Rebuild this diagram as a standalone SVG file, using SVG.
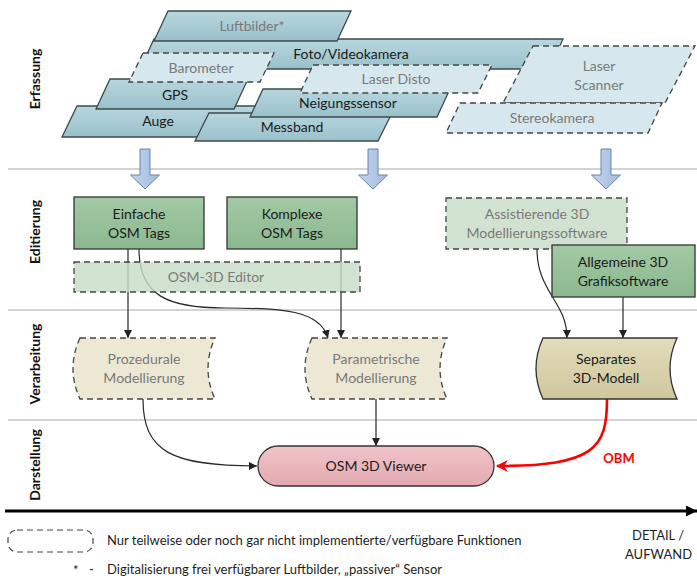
<svg xmlns="http://www.w3.org/2000/svg" width="697" height="578" viewBox="0 0 697 578">
<defs>
  <linearGradient id="gBlue" x1="0" y1="0" x2="0" y2="1"><stop offset="0" stop-color="#b8d6de"/><stop offset="1" stop-color="#99c1cb"/></linearGradient>
  <linearGradient id="gGreen" x1="0" y1="0" x2="0" y2="1"><stop offset="0" stop-color="#a3c9a5"/><stop offset="1" stop-color="#8bb88e"/></linearGradient>
  <linearGradient id="gTan" x1="0" y1="0" x2="0" y2="1"><stop offset="0" stop-color="#e2dcbb"/><stop offset="1" stop-color="#d0c79c"/></linearGradient>
  <linearGradient id="gPink" x1="0" y1="0" x2="0" y2="1"><stop offset="0" stop-color="#f0c4c9"/><stop offset="1" stop-color="#e3a9b0"/></linearGradient>
  <linearGradient id="gArrow" x1="0" y1="0" x2="1" y2="0"><stop offset="0" stop-color="#c3d5ee"/><stop offset="1" stop-color="#a2bbe0"/></linearGradient>
  <marker id="ah" viewBox="0 0 10 10" refX="10" refY="5" markerWidth="8" markerHeight="8" markerUnits="userSpaceOnUse" orient="auto"><path d="M0,0 L10,5 L0,10 Z" fill="#222"/></marker>
  <marker id="ahRed" viewBox="0 0 10 10" refX="9" refY="5" markerWidth="12" markerHeight="12" markerUnits="userSpaceOnUse" orient="auto"><path d="M0,0 L10,5 L0,10 L3,5 Z" fill="#ff0000"/></marker>
  <marker id="axisHead" viewBox="0 0 10 10" refX="10" refY="5" markerWidth="11" markerHeight="11" markerUnits="userSpaceOnUse" orient="auto"><path d="M0,0 L10,5 L0,10 Z" fill="#000"/></marker>
</defs>
<style>
  text { font-family: Lato, "Liberation Sans", sans-serif; }
  .t { font-size: 14px; fill: #1a1a1a; text-anchor: middle; }
  .tg { font-size: 14px; fill: #7a7a7a; text-anchor: middle; }
  .lane { font-size: 14px; font-weight: bold; fill: #111; text-anchor: middle; }
  .pb { fill: url(#gBlue); stroke: #3c4a4e; stroke-width: 1.3; }
  .pd { fill: #d6e8ed; stroke: #444; stroke-width: 1.3; stroke-dasharray: 6 4; }
  .gb { fill: url(#gGreen); stroke: #333; stroke-width: 1.3; }
  .gd { fill: #c8dcc7; fill-opacity: 0.82; stroke: #444; stroke-width: 1.3; stroke-dasharray: 6 4; }
  .td { fill: #ece8d4; stroke: #444; stroke-width: 1.3; stroke-dasharray: 6 4; }
  .ts { fill: url(#gTan); stroke: #333; stroke-width: 1.3; }
  .sep { stroke: #c4c4c4; stroke-width: 1.5; }
  .bar { fill: url(#gArrow); stroke: #6a84a6; stroke-width: 1; }
  .con { fill: none; stroke: #2a2a2a; stroke-width: 1.2; marker-end: url(#ah); }
  .leg { font-size: 13px; fill: #1e1e1e; }
</style>
<rect width="697" height="578" fill="#ffffff"/>

<!-- lane separators -->
<g id="lanes">
  <line class="sep" x1="8" y1="169" x2="697" y2="169"/>
  <line class="sep" x1="8" y1="310" x2="697" y2="310"/>
  <line class="sep" x1="8" y1="420" x2="697" y2="420"/>
  <text class="lane" transform="translate(40,79) rotate(-90)">Erfassung</text>
  <text class="lane" transform="translate(40,232) rotate(-90)">Editierung</text>
  <text class="lane" transform="translate(40,364) rotate(-90)">Verarbeitung</text>
  <text class="lane" transform="translate(40,465) rotate(-90)">Darstellung</text>
</g>

<!-- Erfassung -->
<g id="foto"><polygon class="pb" points="154,39 563,39 549,69 140,69"/><text class="t" x="351" y="59">Foto/Videokamera</text></g>
<g id="luftbilder"><polygon class="pb" points="168,11 351,11 337,41 154,41"/><text class="tg" x="252" y="31">Luftbilder*</text></g>
<g id="auge"><polygon class="pb" points="77,106 262,106 248,137 62,137"/><text class="t" x="158" y="126">Auge</text></g>
<g id="gps"><polygon class="pb" points="110,79 248,79 234,109 96,109"/><text class="t" x="175" y="100">GPS</text></g>
<g id="barometer"><polygon class="pd" points="143,53 274,53 260,82 129,82"/><text class="tg" x="201" y="73">Barometer</text></g>
<g id="messband"><polygon class="pb" points="209,113 392,113 378,141 195,141"/><text class="t" x="292" y="132">Messband</text></g>
<g id="neigungssensor"><polygon class="pb" points="263,89 450,89 437,117 250,117"/><text class="t" x="348" y="108">Neigungssensor</text></g>
<g id="laserdisto"><polygon class="pd" points="313,65 492,65 478,93 300,93"/><text class="tg" x="396" y="84">Laser Disto</text></g>
<g id="laserscanner"><polygon class="pd" points="533,46 695,46 665,103 503,103"/><text class="tg" x="599" y="71">Laser</text><text class="tg" x="599" y="90">Scanner</text></g>
<g id="stereokamera"><polygon class="pd" points="460,103 662,103 648,133 446,133"/><text class="tg" x="552" y="123">Stereokamera</text></g>

<!-- block arrows -->
<g id="blockarrows">
  <path class="bar" d="M140,149 H150 V175 H159.5 L145,189 L130.5,175 H140 Z"/>
  <path class="bar" d="M368,149 H378 V175 H387.5 L373,189 L358.5,175 H368 Z"/>
  <path class="bar" d="M601,149 H611 V175 H620.5 L606,189 L591.5,175 H601 Z"/>
</g>

<!-- connectors -->
<g id="connectors">
  <path class="con" d="M128,249 V338"/>
  <path class="con" d="M139,249 C139,296 168,308 225,308 C282,308 320,310 328,338"/>
  <path class="con" d="M341,249 V338"/>
  <path class="con" d="M537,249 C537,292 567,302 567,338"/>
  <path class="con" d="M623,297 V338"/>
  <path class="con" d="M143,399 C143,452 172,466 257,466"/>
  <path class="con" d="M376,399 V446"/>
  <path d="M607,399 C607,448 595,466 497,466" fill="none" stroke="#ff0000" stroke-width="2.6" marker-end="url(#ahRed)"/>
  <text x="619" y="463" font-size="13" font-weight="bold" fill="#ff0000" text-anchor="middle">OBM</text>
</g>

<!-- Editierung -->
<g id="einfache"><rect class="gb" x="74" y="197" width="130" height="52"/><text class="t" x="139" y="219">Einfache</text><text class="t" x="139" y="238">OSM Tags</text></g>
<g id="komplexe"><rect class="gb" x="227" y="197" width="130" height="52"/><text class="t" x="292" y="219">Komplexe</text><text class="t" x="292" y="238">OSM Tags</text></g>
<g id="editor"><rect class="gd" x="74" y="262" width="286" height="30"/><text class="tg" x="216" y="282">OSM-3D Editor</text></g>
<g id="assistierende"><rect class="gd" x="446" y="198" width="181" height="51"/><text class="tg" x="537" y="219">Assistierende 3D</text><text class="tg" x="537" y="238">Modellierungssoftware</text></g>
<g id="allgemeine"><rect class="gb" x="552" y="245" width="143" height="52"/><text class="t" x="623" y="267">Allgemeine 3D</text><text class="t" x="623" y="286">Grafiksoftware</text></g>

<!-- Verarbeitung -->
<g id="prozedurale"><path class="td" d="M80,338 H215 Q201,368.5 215,399 H80 Q66,368.5 80,338 Z"/><text class="tg" x="144" y="364">Prozedurale</text><text class="tg" x="144" y="383">Modellierung</text></g>
<g id="parametrische"><path class="td" d="M312,338 H447 Q433,368.5 447,399 H312 Q298,368.5 312,338 Z"/><text class="tg" x="376" y="364">Parametrische</text><text class="tg" x="376" y="383">Modellierung</text></g>
<g id="separates"><path class="ts" d="M543,338 H677 Q663,368.5 677,399 H543 Q529,368.5 543,338 Z"/><text class="t" x="606" y="364">Separates</text><text class="t" x="606" y="383">3D-Modell</text></g>

<!-- Darstellung -->
<g id="viewer"><rect x="258" y="446" width="236" height="40" rx="20" ry="20" fill="url(#gPink)" stroke="#333" stroke-width="1.3"/><text class="t" x="376" y="471">OSM 3D Viewer</text></g>

<!-- axis -->
<g id="axis">
  <line x1="5" y1="511" x2="697" y2="511" stroke="#000" stroke-width="3" marker-end="url(#axisHead)"/>
  <text class="leg" x="632" y="540" font-size="15">DETAIL /</text>
  <text class="leg" x="625" y="559" font-size="15">AUFWAND</text>
</g>

<!-- legend -->
<g id="legend">
  <rect x="8" y="530" width="85" height="22" rx="9" ry="9" fill="none" stroke="#444" stroke-width="1.2" stroke-dasharray="6 4"/>
  <text class="leg" x="107" y="545" font-size="12.6">Nur teilweise oder noch gar nicht implementierte/verfügbare Funktionen</text>
  <text class="leg" x="73" y="575">*</text>
  <text class="leg" x="89" y="574">-</text>
  <text class="leg" x="107" y="574">Digitalisierung frei verfügbarer Luftbilder, „passiver“ Sensor</text>
</g>
</svg>
